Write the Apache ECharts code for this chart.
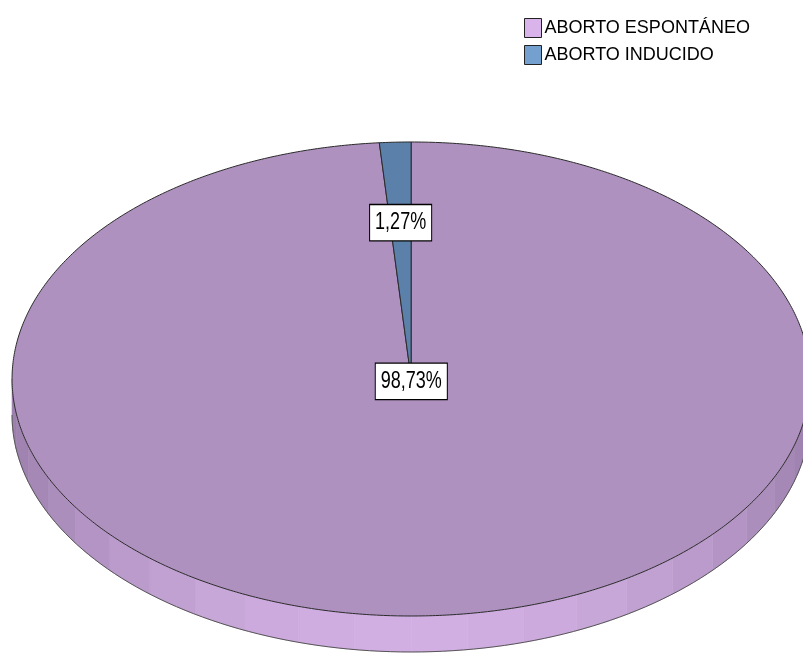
<!DOCTYPE html>
<html>
<head>
<meta charset="utf-8">
<script src="https://cdn.jsdelivr.net/npm/echarts@6/dist/echarts.min.js"></script>
<style>
  html, body { margin: 0; padding: 0; background: #fff; }
  #chart { width: 803px; height: 654px; }
</style>
</head>
<body>
<div id="chart"></div>
<script>
// datos del gráfico
const categories = ['ABORTO ESPONTÁNEO', 'ABORTO INDUCIDO'];
const values = [98.73, 1.27];
const labels = ['98,73%', '1,27%'];

// estilos
const topColors = ['#ae91bf', '#5b80a9'];
const legendColors = ['#d8b4ea', '#74a0d0'];
const sideDark = [156, 127, 172];
const sideLight = [209, 175, 226];
const labelRadius = [0.01, 0.66];
const FONT = 'Liberation Sans, Arial, sans-serif';

const total = values.reduce((a, b) => a + b, 0);
const starts = [];
let acc = 0;
values.forEach(v => { starts.push(acc / total); acc += v; });

const chart = echarts.init(document.getElementById('chart'));

function renderSlice(params, api) {
  const W = api.getWidth(), H = api.getHeight();
  const cx = W * 0.512, cy = H * 0.5795, rx = W * 0.497, ry = H * 0.3624, depth = H * 0.055;
  const i = api.value(2);
  const start = api.value(0) * Math.PI * 2;
  const end = api.value(1) * Math.PI * 2;
  const pt = (t, dy, f) => [cx + f * rx * Math.sin(t), cy - f * ry * Math.cos(t) + dy];
  const children = [];

  // lado (solo la mitad frontal)
  const a0 = Math.max(start, Math.PI / 2), a1 = Math.min(end, Math.PI * 1.5);
  if (a1 > a0) {
    const n = Math.ceil((a1 - a0) / (Math.PI / 22));
    for (let k = 0; k < n; k++) {
      const t0 = a0 + (a1 - a0) * k / n, t1 = a0 + (a1 - a0) * (k + 1) / n;
      const s = Math.pow(Math.max(0, -Math.cos((t0 + t1) / 2)), 1.6);
      const c = sideDark.map((d, j) => Math.round(d + (sideLight[j] - d) * s));
      const col = 'rgb(' + c.join(',') + ')';
      const pts = [];
      const m = 6;
      for (let q = 0; q <= m; q++) pts.push(pt(t0 + (t1 - t0) * q / m, 0, 1));
      for (let q = m; q >= 0; q--) pts.push(pt(t0 + (t1 - t0) * q / m, depth, 1));
      children.push({ type: 'polygon', shape: { points: pts }, style: { fill: col, stroke: col, lineWidth: 0.6 } });
    }
    const edge = [];
    const m = 120;
    for (let q = 0; q <= m; q++) edge.push(pt(a0 + (a1 - a0) * q / m, depth, 1));
    children.push({ type: 'polyline', shape: { points: edge }, style: { stroke: '#555', lineWidth: 1, fill: null } });
  }

  // cara superior
  const face = [pt(0, 0, 0)];
  const steps = Math.max(2, Math.ceil((end - start) / (Math.PI / 360)));
  for (let q = 0; q <= steps; q++) face.push(pt(start + (end - start) * q / steps, 0, 1));
  children.push({ type: 'polygon', shape: { points: face }, style: { fill: topColors[i], stroke: '#2a2a2a', lineWidth: 1 } });

  // etiqueta
  const p = pt((start + end) / 2, 0, labelRadius[i]);
  children.push({
    type: 'text', x: p[0], y: p[1], z2: 100, scaleY: 1.3,
    style: {
      text: labels[i], fill: '#000', fontSize: 18, fontFamily: FONT,
      align: 'center', verticalAlign: 'middle',
      backgroundColor: '#fff', borderColor: '#000', borderWidth: 1, padding: [5, 5, 4, 5]
    }
  });
  return { type: 'group', children };
}

chart.setOption({
  animation: false,
  legend: {
    orient: 'vertical',
    left: 524,
    top: 18,
    padding: 0,
    itemWidth: 17,
    itemHeight: 19,
    itemGap: 7,
    icon: 'rect',
    selectedMode: false,
    itemStyle: { borderColor: '#222', borderWidth: 1 },
    textStyle: { fontSize: 18, color: '#000', fontFamily: FONT, padding: [0, 0, 0, -2] },
    data: categories
  },
  series: categories.map((name, i) => ({
    type: 'custom',
    name,
    coordinateSystem: 'none',
    color: legendColors[i],
    silent: true,
    data: [[starts[i], starts[i] + values[i] / total, i]],
    renderItem: renderSlice
  }))
});
</script>
</body>
</html>
